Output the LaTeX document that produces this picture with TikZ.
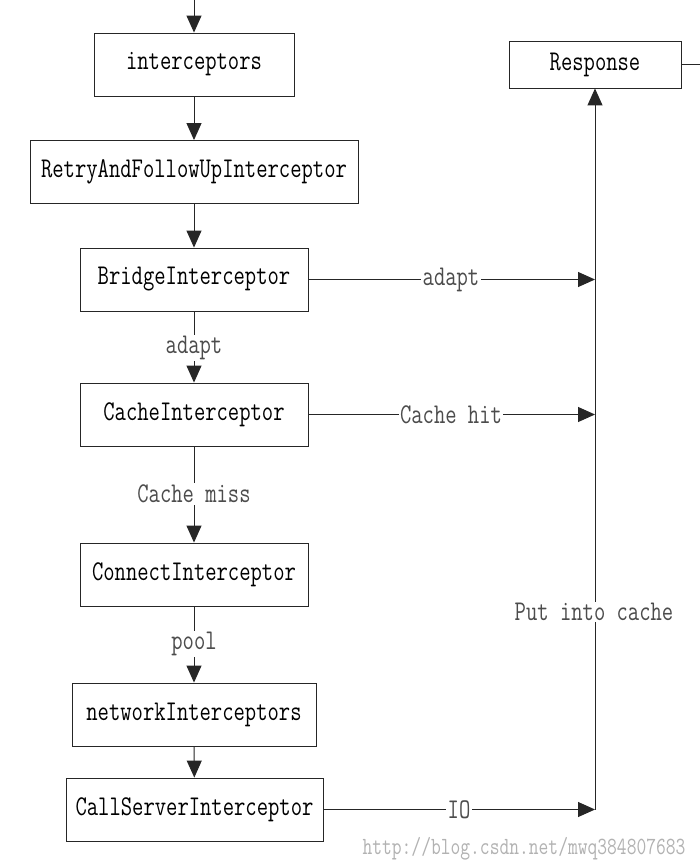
\documentclass[tikz,border=0pt]{standalone}
\usetikzlibrary{arrows.meta}
\newcommand\talltext[1]{\raisebox{-2pt}{\scalebox{1}[1.3]{#1}}}
\begin{document}
\begin{tikzpicture}[x=1pt,y=-1pt,
  box/.style={draw=black!85,line width=0.9pt,minimum height=63pt,inner sep=0pt,
    font=\fontsize{22}{24}\selectfont\ttfamily},
  arr/.style={-{Triangle[width=15pt,length=17pt]},line width=1pt,draw=black!85},
  ln/.style={line width=1pt,draw=black!85},
  lbl/.style={fill=white,inner sep=1.5pt,font=\fontsize{22}{24}\selectfont\ttfamily,text=black!70}]
\useasboundingbox[fill=white] (0,0) rectangle (700,868);
\node[box,minimum width=200pt] (int) at (194,64.5) {\talltext{interceptors}};
\node[box,minimum width=328pt] (retry) at (194,172) {\talltext{RetryAndFollowUpInterceptor}};
\node[box,minimum width=228pt] (bridge) at (194,279.5) {\talltext{BridgeInterceptor}};
\node[box,minimum width=228pt] (cache) at (194,414.5) {\talltext{CacheInterceptor}};
\node[box,minimum width=228pt] (conn) at (194,574.5) {\talltext{ConnectInterceptor}};
\node[box,minimum width=244pt] (net) at (194,714.5) {\talltext{networkInterceptors}};
\node[box,minimum width=257pt] (call) at (194.5,809.5) {\talltext{CallServerInterceptor}};
\node[box,minimum width=172pt,minimum height=47pt] (resp) at (595,64.5) {\talltext{Response}};
\coordinate (top) at (194,0);
\coordinate (redge) at (700,64.5);
\coordinate (ioend) at (595,809.5);
% vertical chain
\draw[arr] (top) -- (int);
\draw[arr] (int) -- (retry);
\draw[arr] (retry) -- (bridge);
\draw[arr] (bridge) -- (cache);
\draw[arr] (cache) -- (conn);
\draw[arr] (conn) -- (net);
\draw[arr] (net) -- (call);
% right side
\draw[ln] (resp.east) -- (redge);
\draw[arr] (ioend) -- (resp.south);
\draw[arr] (bridge.east) -- (bridge.east -| resp.south);
\draw[arr] (cache.east) -- (cache.east -| resp.south);
\draw[arr] (call.east) -- (ioend);
% labels
\node[lbl] (l1) at (194,348) {\talltext{adapt}};
\node[lbl] (l2) at (194,494) {\talltext{Cache miss}};
\node[lbl] (l3) at (194,644) {\talltext{pool}};
\node[lbl] (l4) at (451,279.5) {\talltext{adapt}};
\node[lbl] (l5) at (451,414.5) {\talltext{Cache hit}};
\node[lbl] (l6) at (459,809.5) {\talltext{IO}};
\node[lbl] (l7) at (594,612) {\talltext{Put into cache}};
\node[font=\fontsize{19}{22}\selectfont\ttfamily,text=black!30,inner sep=0pt] (wm) at (524,849) {\talltext{http://blog.csdn.net/mwq384807683}};
\end{tikzpicture}
\end{document}
